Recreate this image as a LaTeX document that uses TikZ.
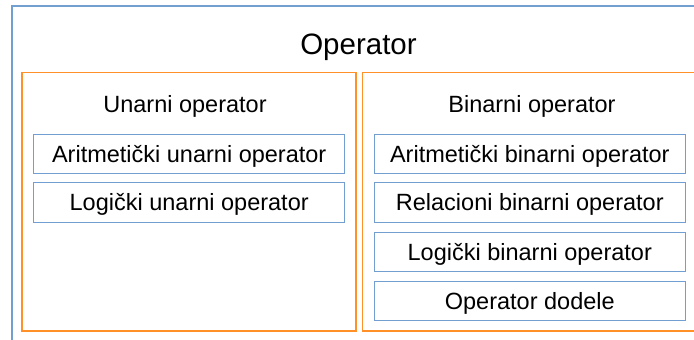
\documentclass[tikz,border=0pt]{standalone}
\usepackage{fontspec}
\setmainfont{Liberation Sans}
\definecolor{boxblue}{RGB}{114,159,207}
\definecolor{panelorange}{RGB}{255,145,40}
\begin{document}
\begin{tikzpicture}[x=1pt,y=-1pt,
  outerbox/.style={draw=boxblue,line width=1.3pt},
  panel/.style={draw=panelorange,line width=1.3pt},
  item/.style={draw=boxblue,line width=1pt,minimum width=311.5pt,minimum height=39.4pt,
    inner sep=0pt,text height=16.8pt,text depth=0pt,font=\fontsize{23.5}{28}\selectfont},
  heading/.style={inner sep=0pt,text height=16.8pt,text depth=0pt,font=\fontsize{23.5}{28}\selectfont}]
\useasboundingbox (0,0) rectangle (694,340);
\clip (0,0) rectangle (694,340);
\draw[outerbox] (12,6) rectangle (720,360);
\node[inner sep=0pt,text height=21.3pt,text depth=0pt,font=\fontsize{29.5}{34}\selectfont] (title) at (358.5,44) {Operator};
\draw[panel] (22,72.7) rectangle (356,331);
\draw[panel] (362.5,72.7) rectangle (701,331);
\node[heading] (un) at (185,104) {Unarni operator};
\node[heading] (bin) at (532,104) {Binarni operator};
\node[item] (a1) at (189.2,154) {Aritmetički unarni operator};
\node[item] (a2) at (189.2,202.4) {Logički unarni operator};
\node[item] (b1) at (529.8,154) {Aritmetički binarni operator};
\node[item] (b2) at (529.8,202.4) {Relacioni binarni operator};
\node[item] (b3) at (529.8,251.7) {Logički binarni operator};
\node[item] (b4) at (529.8,301.2) {Operator dodele};
\end{tikzpicture}
\end{document}
